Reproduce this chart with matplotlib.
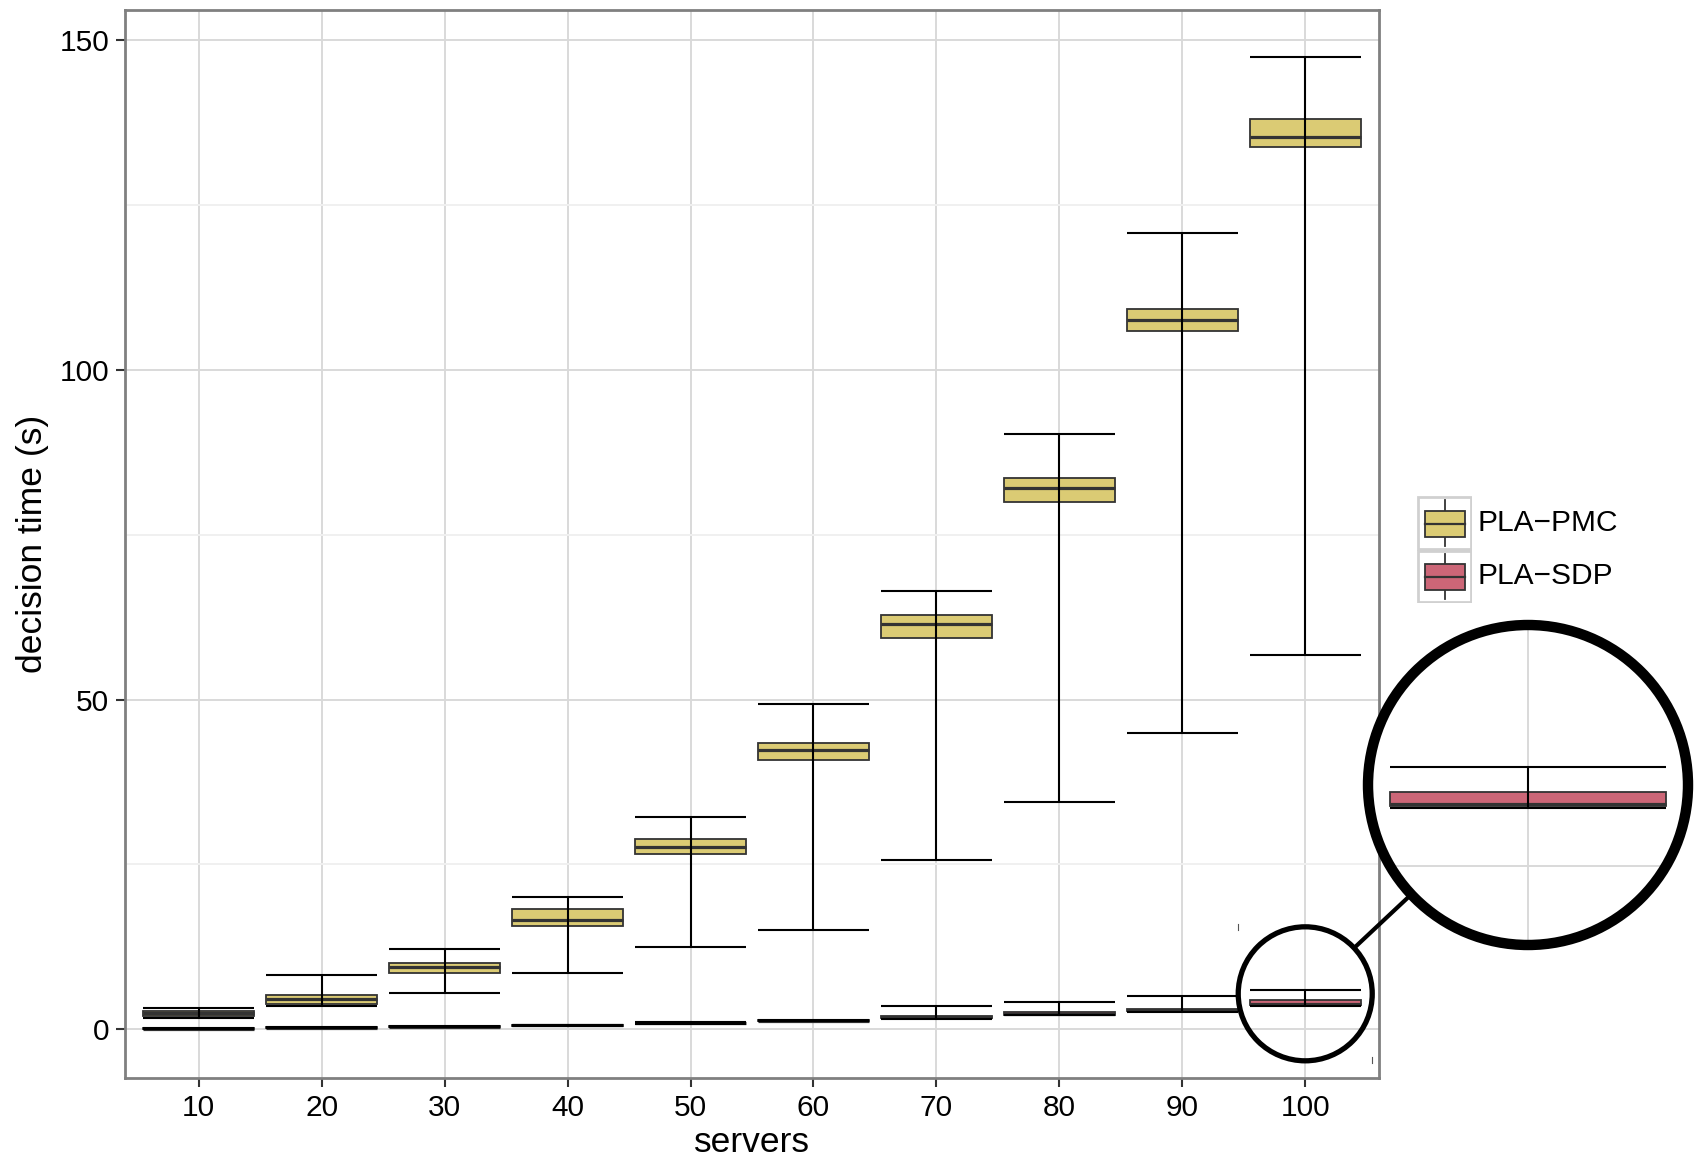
import numpy as np
import matplotlib
matplotlib.use("Agg")
import matplotlib.pyplot as plt
from matplotlib.patches import Circle, Ellipse, Rectangle
from matplotlib.lines import Line2D

plt.rcParams['font.family'] = ['Liberation Sans', 'DejaVu Sans']

# ---- data -------------------------------------------------------------
servers = [10, 20, 30, 40, 50, 60, 70, 80, 90, 100]
series_names = ["PLA\u2212PMC", "PLA\u2212SDP"]

# PLA-PMC decision time (s): whisker low, Q1, median, Q3, whisker high
pmc_lo = [1.7, 3.5, 5.5, 8.6, 12.4, 15.1, 25.6, 34.5, 45.0, 56.7]
pmc_q1 = [2.0, 3.9, 8.6, 15.6, 26.6, 40.9, 59.3, 80.0, 105.9, 133.8]
pmc_med = [2.4, 4.6, 9.4, 16.6, 27.7, 42.3, 61.4, 82.1, 107.6, 135.4]
pmc_q3 = [2.8, 5.2, 10.0, 18.2, 28.9, 43.4, 62.9, 83.6, 109.2, 138.0]
pmc_hi = [3.2, 8.2, 12.1, 20.0, 32.2, 49.3, 66.5, 90.3, 120.7, 147.4]

# PLA-SDP decision time (s)
sdp_lo = [0.0, 0.15, 0.3, 0.5, 0.85, 1.2, 1.6, 2.1, 2.65, 3.5]
sdp_q1 = [0.05, 0.2, 0.35, 0.55, 0.9, 1.25, 1.7, 2.2, 2.75, 3.6]
sdp_med = [0.1, 0.25, 0.4, 0.6, 0.95, 1.3, 1.85, 2.35, 2.9, 3.75]
sdp_q3 = [0.15, 0.3, 0.45, 0.65, 1.0, 1.35, 2.0, 2.55, 3.1, 4.5]
sdp_hi = [0.2, 0.35, 0.5, 0.7, 1.05, 1.4, 3.5, 4.1, 5.05, 6.0]

y_major = [0, 50, 100, 150]
y_minor = [25, 75, 125]

PMC_FILL = '#DBCB74'
SDP_FILL = '#CC6677'
EDGE = '#333333'

W, H = 1699, 1162
DPI = 100
fig = plt.figure(figsize=(W / DPI, H / DPI), dpi=DPI)

# main panel placement (pixels)
P_L, P_R, P_T, P_B = 125, 1379, 10, 1078
ax = fig.add_axes([P_L / W, 1 - P_B / H, (P_R - P_L) / W, (P_B - P_T) / H])

XLIM = (0.4, 10.6)
YLIM = (-7.4, 154.6)

x = np.arange(1, len(servers) + 1)
BW = 0.9


def draw_series(a, lo, q1, med, q3, hi, fill):
    a.bar(x, np.subtract(q3, q1), bottom=q1, width=BW, color=fill,
          edgecolor=EDGE, linewidth=1.3, zorder=3)
    a.hlines(med, x - BW / 2, x + BW / 2, colors=EDGE, linewidth=2.3, zorder=4)
    a.vlines(x, lo, hi, colors='black', linewidth=1.5, zorder=5)
    a.hlines(lo, x - BW / 2, x + BW / 2, colors='black', linewidth=1.5, zorder=5)
    a.hlines(hi, x - BW / 2, x + BW / 2, colors='black', linewidth=1.5, zorder=5)


def style_grid(a):
    a.set_xticks(x)
    a.set_yticks(y_major)
    a.set_yticks(y_minor, minor=True)
    a.grid(True, which='major', color='#D9D9D9', linewidth=1.4, zorder=0)
    a.grid(True, which='minor', axis='y', color='#F0F0F0', linewidth=1.4, zorder=0)
    a.set_axisbelow(True)


style_grid(ax)
draw_series(ax, pmc_lo, pmc_q1, pmc_med, pmc_q3, pmc_hi, PMC_FILL)
draw_series(ax, sdp_lo, sdp_q1, sdp_med, sdp_q3, sdp_hi, SDP_FILL)
ax.set_xlim(*XLIM)
ax.set_ylim(*YLIM)

ax.set_xticklabels([str(s) for s in servers])
ax.tick_params(which='major', length=6.5, width=1.5, color='#333333',
               labelsize=21.5, pad=5.0, labelcolor='black')
ax.tick_params(which='minor', length=0)
for sp in ax.spines.values():
    sp.set_color('#808080')
    sp.set_linewidth(2.0)

ax.set_xlabel('servers', fontsize=25.5)
ax.set_ylabel('decision time (s)', fontsize=25.5)
ax.xaxis.set_label_coords(0.5, (P_B - 1143) / (P_B - P_T))
ax.xaxis.label.set_verticalalignment('center')
ax.yaxis.set_label_coords((33 - P_L) / (P_R - P_L), 0.5)
ax.yaxis.label.set_verticalalignment('center')

# ---- magnifier: small ring on the panel, large ring with zoomed view ----
px_x = (P_R - P_L) / (XLIM[1] - XLIM[0])   # pixels per category
px_y = (P_B - P_T) / (YLIM[1] - YLIM[0])   # pixels per second

small_c = (10, 5.37)
small_r = 67                                # pixels
ax.add_patch(Ellipse(small_c, 2 * small_r / px_x, 2 * small_r / px_y,
                     fill=False, edgecolor='black', linewidth=3.8,
                     zorder=8, clip_on=False))

ZOOM = 2.5
big_cx, big_cy, big_r = 1528, 785, 160      # pixels
zoom_c = (10, 4.9)
axz = fig.add_axes([(big_cx - big_r) / W, 1 - (big_cy + big_r) / H,
                    2 * big_r / W, 2 * big_r / H])
axz.patch.set_visible(False)
for sp in axz.spines.values():
    sp.set_visible(False)
style_grid(axz)
axz.tick_params(which='both', length=0, labelbottom=False, labelleft=False)

clip = Circle((0.5, 0.5), 0.5, transform=axz.transAxes)
bg = Circle((0.5, 0.5), 0.5, transform=axz.transAxes, facecolor='white',
            edgecolor='none', zorder=-1)
axz.add_patch(bg)
draw_series(axz, pmc_lo, pmc_q1, pmc_med, pmc_q3, pmc_hi, PMC_FILL)
draw_series(axz, sdp_lo, sdp_q1, sdp_med, sdp_q3, sdp_hi, SDP_FILL)
hx = big_r / (ZOOM * px_x)
hy = big_r / (ZOOM * px_y)
axz.set_xlim(zoom_c[0] - hx, zoom_c[0] + hx)
axz.set_ylim(zoom_c[1] - hy, zoom_c[1] + hy)
for art in axz.get_children():
    if art is not bg and hasattr(art, 'set_clip_path'):
        art.set_clip_path(clip)
for ln in axz.get_xgridlines() + axz.get_ygridlines():
    ln.set_clip_path(clip)
axz.add_patch(Circle((0.5, 0.5), 0.5, transform=axz.transAxes, fill=False,
                     edgecolor='black', linewidth=7.5, zorder=20,
                     clip_on=False))

# connector between the two rings
sx = P_L + (small_c[0] - XLIM[0]) * px_x
sy = P_B - (small_c[1] - YLIM[0]) * px_y
dx, dy = big_cx - sx, big_cy - sy
d = np.hypot(dx, dy)
ux, uy = dx / d, dy / d
p0 = (sx + ux * small_r, sy + uy * small_r)
p1 = (big_cx - ux * big_r, big_cy - uy * big_r)
fig.add_artist(Line2D([p0[0] / W, p1[0] / W], [1 - p0[1] / H, 1 - p1[1] / H],
                      color='black', linewidth=3.0, solid_capstyle='butt'))

# tiny corner marks of the zoom region
for (mx, my) in [(1238, 927), (1372, 1060)]:
    fig.add_artist(Line2D([mx / W, mx / W], [1 - (my - 3) / H, 1 - (my + 3) / H],
                          color='#555555', linewidth=0.8))

# ---- legend -------------------------------------------------------------
L_X0, L_Y0, L_W, L_H = 1417, 496, 55, 107
lax = fig.add_axes([L_X0 / W, 1 - (L_Y0 + L_H) / H, L_W / W, L_H / H])
lax.set_xlim(0, L_W)
lax.set_ylim(L_H, 0)
lax.axis('off')
key_h = L_H / 2
for i, (name, fill) in enumerate(zip(series_names, [PMC_FILL, SDP_FILL])):
    top = i * key_h
    lax.add_patch(Rectangle((1, top + 1), L_W - 2, key_h - 2, facecolor='white',
                            edgecolor='#D0D0D0', linewidth=2.0))
    b0, b1 = top + 14.5, top + 40.5
    lax.add_patch(Rectangle((8, b0), 40, b1 - b0, facecolor=fill,
                            edgecolor=EDGE, linewidth=1.3, zorder=3))
    lax.plot([8, 48], [(b0 + b1) / 2] * 2, color=EDGE, linewidth=1.6, zorder=4)
    lax.plot([28, 28], [top + 4, b0], color=EDGE, linewidth=1.3)
    lax.plot([28, 28], [b1, top + key_h - 4], color=EDGE, linewidth=1.3)
    fig.text(1478 / W, 1 - (L_Y0 + top + key_h / 2) / H, name,
             fontsize=21.5, va='center', ha='left')

fig.savefig('out.png', dpi=DPI, facecolor='white')
